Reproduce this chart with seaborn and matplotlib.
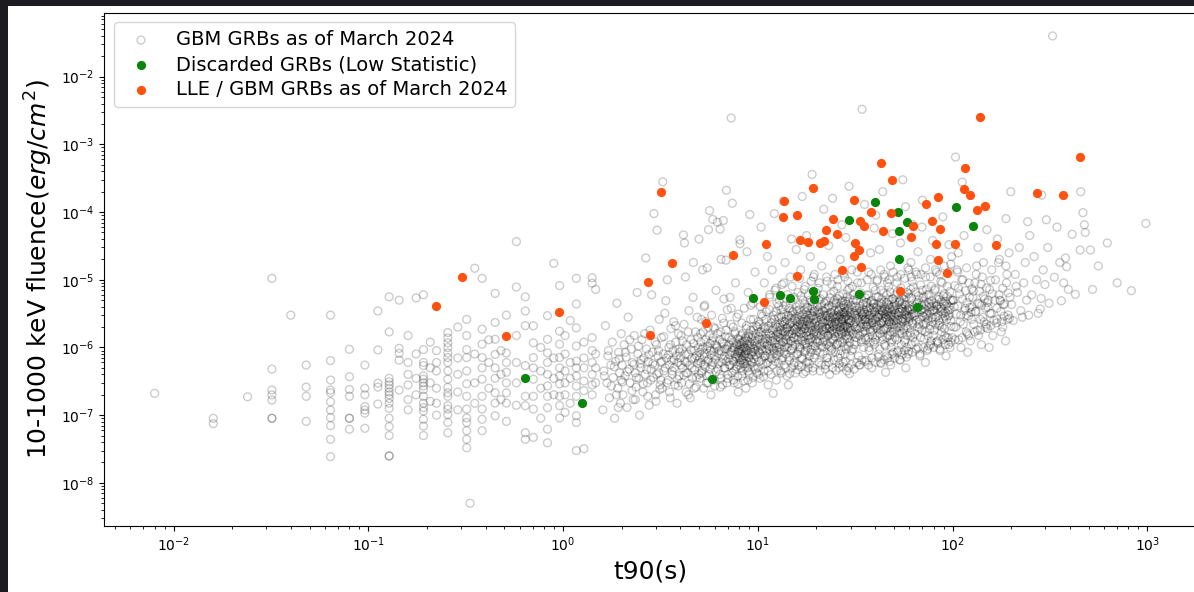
import matplotlib
matplotlib.use("Agg")
import matplotlib.pyplot as plt
import pandas as pd
import seaborn as sns
from matplotlib.patches import Rectangle

# All fluences below are in units of 1e-6 erg/cm^2
UNIT = 1e-6

# Short bursts: t90 is binned, so each t90 value carries a column of fluences
gbm_short_columns = [
    (0.008, [0.21]),
    (0.016, [0.09, 0.075]),
    (0.024, [0.187]),
    (0.032, [10.5, 0.48, 0.235, 0.199, 0.167, 0.09, 0.09]),
    (0.040, [3.0]),
    (0.048, [0.55, 0.26, 0.19, 0.081]),
    (0.064, [3.0, 0.64, 0.33, 0.235, 0.215, 0.158, 0.119, 0.092, 0.070, 0.044, 0.0244]),
    (0.080, [0.94, 0.37, 0.24, 0.19, 0.09, 0.09, 0.062]),
    (0.096, [0.55, 0.25, 0.20, 0.134, 0.119, 0.107, 0.064]),
    (0.112, [3.46, 0.92, 0.296, 0.26, 0.146]),
    (0.128, [5.6, 1.7, 0.35, 0.31, 0.28, 0.25, 0.22, 0.20, 0.177, 0.15, 0.126, 0.09, 0.068, 0.05, 0.025, 0.025]),
    (0.144, [5.0, 0.97, 0.82, 0.65, 0.235]),
    (0.160, [1.5, 0.6, 0.4, 0.28, 0.17, 0.12]),
    (0.176, [5.4, 0.8, 0.35, 0.2]),
    (0.192, [6.0, 0.93, 0.60, 0.54, 0.38, 0.34, 0.30, 0.27, 0.24, 0.19, 0.15, 0.129, 0.115, 0.087, 0.069, 0.05]),
    (0.208, [1.2, 0.5, 0.3, 0.16]),
    (0.224, [0.9, 0.6, 0.45, 0.25, 0.15, 0.1]),
    (0.256, [1.66, 1.38, 1.17, 1.0, 0.83, 0.71, 0.60, 0.45, 0.34, 0.257, 0.214, 0.19, 0.138, 0.123, 0.102, 0.078, 0.055]),
    (0.288, [2.0, 0.7, 0.4, 0.22, 0.12]),
    (0.320, [2.6, 1.5, 0.93, 0.71, 0.45, 0.29, 0.19, 0.123, 0.091, 0.078, 0.059, 0.044, 0.033]),
    (0.333, [0.005]),
    (0.352, [14.8, 0.8, 0.3, 0.15]),
    (0.384, [10.5, 1.86, 1.12, 0.71, 0.5, 0.34, 0.19, 0.123, 0.087, 0.059]),
    (0.416, [1.3, 0.6, 0.25]),
    (0.448, [6.3, 2.34, 1.32, 0.79, 0.5, 0.35, 0.214, 0.151, 0.098]),
    (0.480, [0.9, 0.4, 0.17]),
    (0.512, [3.0, 0.83, 0.60, 0.43, 0.30, 0.214, 0.151, 0.081]),
    (0.576, [36.6, 7.8, 1.5, 0.6, 0.3, 0.14]),
    (0.640, [5.6, 3.46, 2.1, 0.54, 0.19, 0.138, 0.055, 0.044]),
    (0.704, [2.09, 1.17, 0.71, 0.50, 0.34, 0.19, 0.123, 0.047]),
    (0.768, [1.0, 0.45, 0.25, 0.09]),
    (0.832, [2.95, 1.32, 0.83, 0.60, 0.40, 0.27, 0.19, 0.129, 0.062, 0.039]),
    (0.896, [17.5, 0.7, 0.35, 0.2]),
    (0.960, [8.2, 1.74, 1.12, 0.71, 0.5, 0.38, 0.29, 0.19, 0.138, 0.091]),
    (1.024, [1.5, 0.8, 0.45, 0.3, 0.2, 0.11]),
    (1.088, [2.5, 0.6, 0.35, 0.15]),
    (1.170, [10.5, 4.4, 1.95, 1.05, 0.63, 0.5, 0.38, 0.27, 0.19, 0.098, 0.078, 0.03]),
    (1.280, [1.2, 0.7, 0.5, 0.32, 0.23, 0.032]),
    (1.410, [10.7, 8.9, 1.4, 0.9, 0.6, 0.4, 0.28, 0.2]),
    (1.470, [7.2, 0.8, 0.5, 0.3]),
]

# Long bursts: (t90 [s], fluence [1e-6 erg/cm^2])
gbm_long = [
    (1.60,.12),(1.62,.45),(1.65,2.1),(1.68,.3),(1.70,.75),(1.73,.18),(1.76,.55),(1.79,1.2),(1.81,.36),
    (1.84,.09),(1.86,.62),(1.89,4.5),(1.91,.25),(1.93,.85),(1.95,.42),(1.97,.15),(1.99,1.6),(1.99,.33),
    (2.01,.55),(2.03,.2),(2.06,1.1),(2.08,.38),(2.11,.72),(2.13,.13),(2.16,2.8),(2.19,.48),(2.21,.3),
    (2.24,.95),(2.27,.6),(2.29,.17),(2.32,1.5),(2.35,.42),(2.37,.26),(2.40,6.5),(2.42,.8),(2.45,.35),
    (2.47,.1),(2.49,.58),
    (2.51,.5),(2.54,1.3),(2.57,.22),(2.60,.7),(2.63,.4),(2.66,21),(2.68,.95),(2.71,.3),(2.74,.62),
    (2.77,.14),(2.80,1.8),(2.83,.48),(2.85,6.0),(2.88,.85),(2.91,.36),(2.93,95),(2.96,.55),(2.99,.2),
    (3.02,1.1),(3.04,54),(3.07,.75),(3.10,.42),(3.12,2.6),(3.15,.28),
    (3.17,.6),(3.20,1.4),(3.23,.25),(3.25,280),(3.27,.8),(3.30,.45),(3.33,3.2),(3.37,4.9),(3.40,.7),
    (3.43,10),(3.46,.33),(3.49,1.0),(3.52,.55),(3.55,.18),(3.58,1.9),(3.61,.65),(3.64,.4),(3.67,.9),
    (3.70,2.4),(3.73,.5),(3.76,.28),(3.79,1.2),(3.82,.75),(3.85,.15),(3.88,.6),(3.91,1.6),(3.94,.38),
    (3.97,.85),
    (4.00,.7),(4.03,1.5),(4.06,.3),(4.09,.95),(4.12,.5),(4.15,46),(4.18,2.2),(4.20,35),(4.22,.62),
    (4.25,11),(4.28,.22),(4.32,1.1),(4.36,.42),(4.40,.8),(4.43,3.5),(4.47,.55),(4.50,.18),(4.54,1.3),
    (4.58,.68),(4.61,.35),(4.65,5.5),(4.67,18),(4.70,.9),(4.74,.47),(4.78,1.7),(4.81,.26),(4.85,.75),
    (4.88,2.8),(4.91,.58),(4.94,1.0),(4.97,.4),(4.99,40),
    (5.02,.85),(5.05,.35),(5.08,1.6),(5.11,.6),(5.14,2.6),(5.17,.45),(5.20,14),(5.23,1.0),(5.27,.25),
    (5.30,.72),(5.34,4.2),(5.37,.52),(5.41,1.3),(5.45,.3),(5.48,.95),(5.50,15),(5.53,.62),(5.56,2.0),
    (5.58,55),(5.62,.4),(5.65,105),(5.68,1.15),(5.72,.78),(5.75,.2),(5.79,3.0),(5.83,.55),(5.87,78),
    (5.90,1.4),(5.94,.88),(5.98,.33),(6.02,1.9),(6.06,.66),(6.10,7.0),(6.15,1.05),(6.20,71),(6.25,.48),
    (6.32,.9),(6.36,.4),(6.40,56),(6.44,1.7),(6.48,20),(6.52,.6),(6.56,1.2),(6.60,.28),(6.65,75),
    (6.69,2.3),(6.73,.75),(6.77,.5),(6.82,1.45),(6.86,19.5),(6.90,210),(6.94,.95),(6.98,3.6),(7.02,.35),
    (7.06,.68),(7.10,1.1),(7.15,.55),(7.20,5.5),(7.25,.85),(7.30,2450),(7.33,1.3),(7.37,.42),(7.40,135),
    (7.44,.98),(7.48,2.0),(7.52,.62),(7.56,.3),(7.60,1.6),(7.64,.8),(7.68,9.0),(7.72,.48),(7.76,1.15),
    (7.80,2.8),(7.84,.7),(7.88,.38),(7.91,1.35),(7.93,.22),(7.95,.9),
    (7.98,.75),(8.02,1.1),(8.05,.55),(8.08,39),(8.10,34),(8.12,.85),(8.16,1.5),(8.20,.65),(8.24,.95),
    (8.28,2.3),(8.32,.45),(8.36,1.2),(8.40,.7),(8.44,.32),(8.48,1.0),(8.52,3.8),(8.56,.8),(8.60,.58),
    (8.64,1.4),(8.68,.25),(8.72,1.9),(8.76,.9),(8.80,26),(8.84,.5),(8.88,1.25),(8.92,6.5),(8.96,.72),
    (9.00,1.6),(9.05,.4),(9.10,92),(9.14,1.05),(9.18,2.6),(9.22,.62),(9.27,.85),(9.32,1.35),(9.37,.3),
    (9.42,4.5),(9.47,.95),(9.52,1.8),(9.57,.52),(9.62,1.15),(9.68,13),(9.74,.78),(9.80,2.1),(9.88,.42),
    (10.0,1.3),(10.05,.5),(10.1,2.4),(10.15,.85),(10.2,1.7),(10.25,.35),(10.3,4.0),(10.35,1.05),(10.4,60),
    (10.45,.65),(10.5,1.5),(10.55,2.9),(10.6,.9),(10.7,1.2),(10.75,.45),(10.8,9.0),(10.85,1.9),(10.9,.75),
    (11.0,1.35),(11.05,3.4),(11.1,.58),(11.15,1.1),(11.2,22),(11.3,.28),(11.35,2.1),(11.4,.95),(11.45,1.6),
    (11.5,5.5),(11.55,.7),(11.6,1.25),(11.7,.4),(11.75,2.6),(11.8,1.0),(11.85,14),(11.9,1.8),(11.95,.55),
    (12.0,1.4),(12.0,.21),(12.05,3.0),(12.1,.82),(12.15,95),(12.2,1.15),(12.25,7.0),(12.3,.62),(12.35,2.2),
    (12.4,1.55),(12.45,.33),(12.5,1.0),(12.55,4.5),(12.6,.9),(12.65,1.7),
    (12.7,1.6),(12.75,.6),(12.8,2.8),(12.85,1.1),(12.9,5.0),(12.95,.85),(13.0,2.0),(13.05,1.35),(13.1,.45),
    (13.15,3.6),(13.2,1.8),(13.25,.95),(13.3,8.5),(13.35,2.4),(13.4,.7),(13.45,1.5),(13.5,145),(13.55,1.2),
    (13.6,3.1),(13.65,.55),(13.7,2.2),(13.75,1.0),(13.8,18),(13.85,1.7),(13.9,4.2),(13.95,.8),(14.0,1.3),
    (14.05,2.6),(14.1,.38),(14.15,1.95),(14.2,6.0),(14.3,1.15),(14.35,.28),(14.4,2.9),(14.45,1.45),(14.5,.65),
    (14.55,3.8),(14.6,1.75),(14.7,11),(14.75,.9),(14.8,2.3),(14.85,1.25),(14.9,40),(14.95,.5),(15.0,1.6),
    (15.1,3.3),(15.15,1.05),(15.2,2.0),(15.3,.75),(15.35,5.5),(15.4,1.4),(15.5,2.7),(15.6,.42),(15.65,1.85),
    (15.75,28),
    (15.85,2.0),(15.9,.8),(15.95,3.5),(16.0,1.3),(16.1,6.5),(16.15,1.7),(16.2,.55),(16.3,2.6),(16.35,1.1),
    (16.4,4.3),(16.45,2.2),(16.5,.95),(16.6,14),(16.65,1.6),(16.7,3.0),(16.8,.68),(16.85,2.0),(16.9,170),
    (17.0,1.25),(17.05,5.0),(17.1,2.4),(17.15,.41),(17.2,1.45),(17.3,3.6),(17.35,1.9),(17.4,.85),(17.5,8.0),
    (17.55,2.8),(17.6,1.15),(17.7,.6),(17.75,2.1),(17.8,45),(17.9,1.7),(17.95,3.9),(18.0,1.0),(18.1,2.5),
    (18.15,.5),(18.2,6.0),(18.3,1.5),(18.35,2.2),(18.4,.75),(18.5,3.2),(18.6,22),(18.65,1.35),(18.7,2.7),
    (18.8,.92),(18.9,4.8),(18.95,1.8),(19.0,360),(19.1,1.2),(19.15,2.9),(19.2,.45),(19.3,11),(19.4,1.6),
    (19.45,3.4),(19.5,.7),(19.6,2.3),(19.7,1.05),(19.8,5.6),(19.9,1.9),
    (20.0,2.4),(20.1,.9),(20.2,4.0),(20.3,1.5),(20.4,7.5),(20.5,2.1),(20.6,.6),(20.7,3.1),(20.8,1.25),
    (20.9,.45),(21.0,5.2),(21.1,2.6),(21.2,1.05),(21.3,16),(21.4,1.8),(21.5,3.5),(21.6,.8),(21.7,2.3),
    (21.8,110),(21.9,1.4),(22.0,4.5),(22.1,2.0),(22.2,.55),(22.3,1.65),(22.4,3.8),(22.5,2.9),(22.6,1.1),
    (22.7,9.5),(22.8,.7),(22.9,2.5),(23.0,1.5),(23.1,32),(23.2,4.1),(23.3,1.9),(23.4,.4),(23.5,2.7),
    (23.6,1.2),(23.7,6.2),(23.8,3.3),(23.9,1.75),(24.0,.95),(24.1,2.2),(24.2,160),(24.3,1.35),(24.4,4.6),
    (24.5,2.05),(24.6,.65),(24.7,3.0),(24.8,1.6),(24.9,12),(25.0,2.4),(25.05,.85),(20.15,1.7),(20.55,3.3),
    (21.25,2.8),(21.65,1.2),(22.15,3.0),(22.65,1.9),(23.25,2.2),(23.75,1.0),(24.25,2.8),(24.75,5.0),
    (25.2,2.8),(25.3,1.1),(25.4,4.6),(25.5,1.7),(25.6,8.0),(25.7,2.4),(25.8,.7),(25.9,3.5),(26.0,1.4),
    (26.1,.5),(26.2,5.8),(26.3,2.9),(26.4,1.2),(26.5,20),(26.6,2.0),(26.7,3.9),(26.8,.9),(26.9,2.6),
    (27.0,65),(27.1,1.6),(27.2,4.9),(27.3,2.2),(27.4,.6),(27.5,1.9),(27.6,4.2),(27.7,3.1),(27.8,1.3),
    (27.9,11),(28.0,.8),(28.1,2.8),(28.2,1.7),(28.3,42),(28.4,4.4),(28.5,2.1),(28.6,.45),(28.7,3.0),
    (28.8,1.35),(28.9,7.0),(29.0,3.6),(29.1,1.95),(29.2,1.05),(29.3,2.5),(29.4,240),(29.5,1.5),(29.6,.41),
    (29.7,5.2),(29.8,2.3),(29.9,.75),(30.0,3.3),(30.2,1.8),(30.4,14),(30.6,2.7),(30.8,.95),(31.0,6.0),
    (31.2,1.6),(31.4,3.9),(25.45,2.2),(26.05,3.4),(26.55,1.8),(27.05,2.6),(27.55,3.3),(28.05,2.0),
    (28.55,2.6),(29.05,4.8),
    (31.7,3.0),(31.9,1.2),(32.1,5.0),(32.3,1.9),(32.5,9.0),(32.7,2.6),(32.9,.75),(33.1,3.8),(33.3,1.5),
    (33.5,.55),(33.7,6.4),(33.9,3.2),(34.1,1.3),(34.3,3300),(34.5,2.2),(34.7,4.3),(34.9,1.0),(35.1,2.9),
    (35.3,130),(35.5,1.75),(35.7,5.4),(35.9,2.4),(36.1,.65),(36.3,2.0),(36.5,4.6),(36.7,3.4),(36.9,1.4),
    (37.1,13),(37.3,.9),(37.5,3.0),(37.7,1.85),(37.9,25),(38.1,4.8),(38.3,2.3),(38.5,.5),(38.7,3.3),
    (38.9,1.5),(39.1,7.8),(39.3,3.9),(39.5,2.1),(39.7,1.1),(31.8,2.4),(32.2,3.5),(32.6,1.6),(33.0,2.8),
    (33.4,4.1),(33.8,2.0),(34.2,3.0),(34.6,1.7),(35.0,3.6),(35.4,2.6),(35.8,1.3),(36.2,3.1),(36.6,2.2),
    (37.0,5.9),(37.4,2.7),(37.8,1.2),(38.2,3.6),(38.6,2.5),(39.0,1.8),(39.4,4.4),(39.6,58),
    (39.9,3.3),(40.2,1.3),(40.5,5.6),(40.8,2.1),(41.1,10),(41.4,2.8),(41.7,.8),(42.0,4.2),(42.3,1.6),
    (42.6,.6),(42.9,7.0),(43.2,3.5),(43.5,1.45),(43.8,200),(44.1,2.4),(44.4,4.7),(44.7,1.1),(45.0,3.1),
    (45.3,.43),(45.6,1.9),(45.9,6.0),(46.2,2.6),(46.5,.7),(46.8,2.2),(47.1,5.0),(47.4,3.7),(47.7,1.5),
    (48.0,16),(48.3,1.0),(48.6,3.3),(48.9,2.0),(49.2,48),(49.5,5.2),(49.8,2.5),(40.0,2.6),(40.6,3.8),
    (41.2,1.9),(41.8,3.0),(42.4,4.6),(43.0,2.3),(43.6,3.4),(44.2,1.8),(44.8,3.9),(45.4,2.8),(46.0,1.4),
    (46.6,3.5),(47.2,2.4),(47.8,6.6),(48.4,2.9),(49.0,1.3),(49.6,4.0),(40.3,90),(42.1,28),(44.5,12),
    (46.3,9.0),(48.1,.55),(49.9,1.7),(43.3,3.0),
    (50.3,3.6),(50.7,1.4),(51.1,6.0),(51.5,2.3),(51.9,11),(52.3,3.0),(52.7,.9),(53.1,4.6),(53.5,1.75),
    (53.9,.65),(54.3,7.6),(54.7,3.8),(55.1,1.6),(55.5,300),(55.9,2.6),(56.3,5.1),(56.7,1.2),(57.1,3.4),
    (57.5,.5),(57.9,2.1),(58.3,6.5),(58.7,2.8),(59.1,.8),(59.5,2.4),(59.9,5.4),(60.3,4.0),(60.7,1.65),
    (61.1,18),(61.5,1.1),(61.9,3.6),(62.3,2.2),(62.7,65),(50.5,2.8),(51.3,4.2),(52.1,2.0),(52.9,3.3),
    (53.7,5.0),(54.5,2.5),(55.3,3.7),(56.1,1.9),(56.9,4.3),(57.7,3.0),(58.5,1.5),(59.3,3.8),(60.1,2.7),
    (60.9,7.2),(61.7,3.1),(62.5,1.4),(54.0,35),(57.3,120),(59.7,14),(62.0,9.5),
    (63.5,4.0),(64.0,1.6),(64.5,6.6),(65.0,2.5),(65.5,12),(66.0,3.3),(66.5,1.0),(67.0,5.0),(67.5,1.9),
    (68.0,.75),(68.5,8.4),(69.0,4.2),(69.5,1.8),(70.0,150),(70.5,2.9),(71.0,5.6),(71.5,1.35),(72.0,3.7),
    (72.5,.6),(73.0,2.3),(73.5,7.2),(74.0,3.1),(74.5,.95),(75.0,2.7),(75.5,6.0),(76.0,4.4),(76.5,1.85),
    (77.0,20),(77.5,1.25),(78.0,4.0),(78.5,2.4),(79.0,38),(64.2,3.0),(65.8,4.6),(67.2,2.2),(68.8,3.6),
    (70.2,5.4),(71.8,2.8),(73.2,4.1),(74.8,1.5),(76.2,3.3),(77.8,8.0),(66.4,26),(69.7,60),(72.8,11),
    (80.0,4.5),(80.7,1.8),(81.4,7.4),(82.1,2.8),(82.8,13),(83.5,3.7),(84.2,1.15),(84.9,5.6),(85.6,2.1),
    (86.3,.9),(87.0,9.4),(87.7,4.7),(88.4,2.0),(89.1,85),(89.8,3.2),(90.5,6.2),(91.2,1.5),(91.9,4.1),
    (92.6,.75),(93.3,2.6),(94.0,8.0),(94.7,3.5),(95.4,1.1),(96.1,3.0),(96.8,6.7),(97.5,4.9),(98.2,2.05),
    (98.9,22),(99.6,1.4),(81.0,3.4),(83.0,5.2),(85.0,2.5),(87.3,3.9),(89.5,5.8),(91.5,2.9),(93.6,4.4),
    (95.8,33),(97.9,17),
    (100.5,5.0),(101.5,2.0),(102.5,8.2),(103.5,650),(104.5,3.1),(105.5,14),(106.5,4.1),(107.5,1.3),
    (108.5,6.2),(109.5,2.4),(110.5,1.0),(111.5,10),(112.5,5.2),(113.5,2.2),(114.5,45),(115.5,3.5),
    (116.5,6.9),(117.5,1.7),(118.5,4.6),(119.5,.85),(120.5,2.9),(121.5,9.0),(122.5,3.9),(123.5,1.25),
    (124.5,3.3),(125.5,7.4),(102.0,4.0),(107.0,25),(112.0,277),(118.0,3.0),
    (127,5.5),(128.5,2.2),(130,9.0),(131.5,3.4),(133,16),(134.5,4.5),(136,1.5),(137.5,6.8),(139,2.6),
    (140.5,1.1),(142,11),(143.5,5.7),(145,2.4),(146.5,120),(148,3.8),(149.5,7.6),(151,1.9),(152.5,5.0),
    (154,1.0),(155.5,3.2),(157,9.8),(135,30),(141,4.2),(150,55),
    (160,6.2),(163,2.5),(166,10),(169,3.8),(172,18),(175,5.0),(178,1.7),(181,7.5),(184,2.9),(187,1.25),
    (190,12),(193,6.4),(196,2.7),(199,200),(170,40),(182,4.3),(188,80),(195,25),
    (201,4.3),(205,2.5),(210,12),(215,6.5),(220,30),(224,3.5),(228,2.8),(232,9.0),(236,18),(240,5.0),
    (243,72),(246,3.0),(249,45),(212,8.0),
    (255,6.0),(262,22),(270,10),(275,3.2),(282,3.7),(285,5.3),(287,178),(292,14),(298,8.5),(303,77),
    (308,30),(313,4.5),
    (326,40000),(333,10.9),(344,60),(355,18),(362,4.9),(372,9.0),(380,21),(385,15.6),(393,7.2),
    (411,47),(427,6.1),(452,27.5),(455,200),(467,98),(475,65),(480,50),(510,27.5),(523,7.2),(560,16),
    (623,35),(700,9.0),(828,6.9),(983,68),
]

# Crowded core of the long-burst population
gbm_long_core = [
    (1.63,.38),(1.71,.9),(1.77,.27),(1.83,.52),(1.88,.2),(1.94,.68),(2.02,.31),(2.09,.85),(2.14,.44),
    (2.2,1.3),(2.26,.23),(2.31,.56),(2.38,.36),(2.44,1.05),(2.52,.66),(2.58,.29),(2.62,1.6),(2.69,.47),
    (2.76,.78),(2.82,.33),(2.89,.58),(2.97,1.2),(3.03,.4),(3.09,.9),(3.14,.24),(3.21,.62),(3.29,1.45),
    (3.35,.5),(3.41,.3),(3.48,.78),(3.56,1.1),(3.63,.45),(3.71,.66),(3.78,2.1),(3.86,.34),(3.93,.95),
    (4.02,.55),(4.1,1.25),(4.17,.39),(4.24,.8),(4.31,.6),(4.39,1.7),(4.46,.29),(4.53,.92),(4.6,.5),
    (4.68,1.15),(4.75,.7),(4.83,.36),(4.9,1.4),(4.96,.64),(3.18,.33),(3.52,.22),(3.9,.27),(4.28,.42),
    (4.72,.25),(2.35,.17),(2.72,.19),(1.92,.13),(3.0,.16),(4.4,.2),
    (5.04,.7),(5.09,1.2),(5.13,.42),(5.19,.95),(5.24,1.7),(5.29,.55),(5.35,.82),(5.4,2.4),(5.46,.38),
    (5.52,1.05),(5.57,.66),(5.63,1.5),(5.69,.48),(5.74,.9),(5.8,1.25),(5.86,.6),(5.92,2.0),(5.97,.75),
    (6.04,1.1),(6.09,.44),(6.16,.98),(6.22,1.6),(6.27,.58),(6.33,.8),(6.38,1.3),(6.45,.35),(6.5,.88),
    (6.57,2.7),(6.62,.68),(6.68,1.15),(6.74,.5),(6.8,.95),(6.87,1.8),(6.92,.62),(6.99,1.05),(7.04,.4),
    (7.11,1.4),(7.17,.78),(7.22,.55),(7.28,2.2),(7.35,.9),(7.41,.65),(7.47,1.2),(7.53,.45),(7.59,1.0),
    (7.66,1.7),(7.71,.72),(7.78,.52),(7.83,1.1),(7.89,.85),(7.94,3.1),(5.55,.3),(6.0,.27),(6.42,.26),
    (6.95,.3),(7.5,.33),(7.9,.29),(5.3,4.0),(6.7,5.2),(7.3,3.8),
    (8.01,.95),(8.04,.7),(8.07,1.3),(8.11,.6),(8.14,1.05),(8.18,.8),(8.21,.5),(8.25,1.15),(8.29,.88),
    (8.33,.66),(8.37,1.6),(8.41,.95),(8.46,.58),(8.5,1.25),(8.54,.75),(8.58,1.0),(8.63,.52),(8.67,1.35),
    (8.71,.82),(8.75,2.1),(8.79,.62),(8.83,1.1),(8.87,.9),(8.91,.45),(8.95,1.45),(9.02,.7),(9.07,1.2),
    (9.12,.55),(9.16,.98),(9.21,1.8),(9.26,.78),(9.3,1.1),(9.35,.6),(9.4,1.5),(9.45,.85),(9.5,2.6),
    (9.55,.68),(9.6,1.25),(9.66,.95),(9.71,.48),(9.77,1.6),(9.83,1.05),(9.9,.72),(9.95,2.0),(10.02,.9),
    (10.08,1.45),(10.13,.62),(10.18,2.2),(10.23,1.1),(10.32,.8),(10.38,1.7),(10.42,3.1),(10.48,.95),
    (10.58,1.3),(10.65,.56),(10.72,2.0),(10.82,1.15),(10.88,.75),(10.95,1.6),(11.02,2.6),(11.08,.9),
    (11.18,1.35),(11.25,.6),(11.32,1.9),(11.42,1.05),(11.48,3.6),(11.58,.8),(11.65,1.5),(11.72,2.3),
    (11.78,.68),(11.88,1.25),(11.98,.95),(8.3,.38),(8.9,.33),(9.45,.36),(10.1,.4),(10.7,.37),(11.3,.45),
    (9.2,4.2),(11.5,6.0),
    (12.02,1.9),(12.12,.9),(12.18,2.6),(12.28,1.3),(12.38,3.4),(12.48,.75),(12.58,2.0),(12.68,1.45),
    (12.78,4.1),(12.88,1.0),(12.98,2.3),(13.08,1.6),(13.18,.65),(13.28,2.8),(13.38,1.2),(13.48,3.7),
    (13.58,1.75),(13.68,.85),(13.78,2.4),(13.88,1.35),(13.98,5.2),(14.08,1.9),(14.18,1.0),(14.28,3.0),
    (14.38,1.55),(14.48,.72),(14.58,2.2),(14.68,4.5),(14.78,1.25),(14.88,2.7),(14.98,.95),(15.08,1.8),
    (15.18,3.4),(15.28,1.4),(15.38,.6),(15.48,2.5),(15.58,1.1),(15.7,4.0),(15.8,1.7),(15.92,2.9),
    (16.04,.8),(16.12,2.1),(16.24,1.45),(16.32,3.6),(16.42,1.0),(16.54,2.5),(16.62,5.8),(16.72,1.3),
    (16.82,2.2),(16.92,.7),(17.02,3.1),(17.12,1.65),(17.22,2.6),(17.32,1.1),(17.42,4.4),(17.52,1.9),
    (17.62,.9),(17.72,3.3),(17.82,1.5),(17.92,2.4),(18.02,.62),(18.12,3.8),(18.22,1.75),(18.32,2.7),
    (18.42,1.2),(18.52,5.0),(18.62,2.0),(18.72,.85),(18.82,3.0),(18.92,1.4),(19.02,2.3),(19.12,4.2),
    (19.22,1.05),(19.32,2.6),(19.42,1.7),(19.52,3.5),(19.62,.78),(19.72,2.0),(19.82,1.3),(19.92,6.5),
    (12.5,.45),(13.2,.42),(13.9,.5),(14.6,.41),(15.3,.55),(16.0,.47),(16.8,.52),(17.6,.44),(18.4,.58),
    (19.2,.5),(12.4,7.5),(13.6,9.0),(15.0,8.0),(16.4,10.5),(17.3,7.2),(18.8,9.5),(19.5,12),(14.2,2.0),
    (15.9,2.4),(17.9,3.0),(12.9,1.4),(16.7,1.8),(18.7,2.1),(19.95,1.6),(14.9,3.0),(13.4,2.1),(15.45,1.9),
    (17.05,2.2),(18.15,1.3),(19.05,3.7),
    (20.05,2.7),(20.25,1.2),(20.35,3.6),(20.45,1.8),(20.65,5.0),(20.75,2.2),(20.85,.85),(20.95,3.2),
    (21.05,1.5),(21.15,4.3),(21.35,2.0),(21.45,1.0),(21.55,2.9),(21.75,6.0),(21.85,1.7),(21.95,3.4),
    (22.05,1.25),(22.25,2.5),(22.35,4.8),(22.45,1.9),(22.55,.7),(22.75,3.0),(22.85,1.5),(22.95,3.9),
    (23.05,2.2),(23.15,1.05),(23.35,2.8),(23.45,5.4),(23.55,1.6),(23.65,3.3),(23.85,.9),(23.95,2.4),
    (24.05,4.0),(24.15,1.8),(24.35,2.9),(24.45,1.3),(24.55,6.8),(24.65,2.1),(24.85,3.5),(24.95,1.45),
    (25.1,2.6),(25.25,4.4),(25.35,1.9),(25.55,3.0),(25.65,1.15),(25.75,5.2),(25.95,2.3),(26.15,1.6),
    (26.25,3.7),(26.35,2.0),(26.45,.8),(26.65,3.1),(26.75,1.7),(26.85,4.6),(26.95,2.4),(27.15,1.2),
    (27.25,3.3),(27.35,6.2),(27.45,1.8),(27.65,2.7),(27.75,1.05),(27.85,3.9),(27.95,2.1),(28.15,4.8),
    (28.25,1.5),(28.35,2.9),(28.45,.95),(28.65,3.5),(28.75,2.0),(28.85,5.6),(28.95,1.4),(29.15,2.6),
    (29.25,3.8),(29.35,1.7),(29.45,2.3),(29.55,7.5),(29.65,1.2),(29.75,3.1),(29.85,1.9),(29.95,4.2),
    (30.1,2.5),(30.3,.9),(30.5,3.6),(30.7,1.6),(30.9,5.0),(31.1,2.2),(31.3,1.1),(31.5,3.2),(31.65,2.0),
    (31.85,4.1),(32.0,1.4),(32.4,2.7),(32.8,5.8),(33.2,1.9),(33.6,3.4),(34.0,1.2),(34.4,2.6),(34.8,4.5),
    (35.0,2.0),(21.2,.55),(22.2,.48),(23.2,.6),(24.2,.5),(25.2,.46),(26.2,.58),(27.2,.52),(28.2,.62),
    (29.2,.5),(30.2,.56),(31.2,.48),(32.2,.6),(33.2,.55),(34.2,.65),(20.7,9.0),(22.5,11),(24.0,8.5),
    (25.8,10),(27.6,12.5),(29.0,9.5),(30.6,8.0),(32.4,13),(34.0,9.0),(21.5,2.4),(23.4,2.0),(26.0,2.8),
    (28.0,3.3),(31.8,3.0),(33.6,2.3),(34.6,3.1),
    (35.2,3.3),(35.6,1.4),(35.9,4.6),(36.0,2.1),(36.4,6.0),(36.8,2.6),(37.2,1.0),(37.6,3.8),(38.0,1.7),
    (38.4,5.0),(38.8,2.3),(39.2,1.2),(39.8,3.4),(40.1,7.0),(40.4,2.0),(40.7,3.9),(41.0,1.5),(41.3,2.8),
    (41.6,5.6),(41.9,2.2),(42.2,.95),(42.5,3.6),(42.8,1.8),(43.1,4.4),(43.4,2.5),(43.7,1.3),(44.0,3.2),
    (44.3,6.4),(44.6,1.9),(44.9,3.7),(45.2,1.05),(45.5,2.7),(45.8,4.6),(46.1,2.0),(46.4,3.3),(46.7,1.5),
    (47.0,8.0),(47.3,2.4),(47.6,3.9),(47.9,1.7),(48.2,3.0),(48.5,1.2),(48.8,5.2),(49.1,2.6),(49.4,3.6),
    (49.7,.85),(50.0,2.2),(50.4,4.4),(50.8,1.9),(51.2,3.2),(51.6,1.3),(52.0,6.6),(52.4,2.5),(52.8,3.7),
    (53.2,1.6),(53.6,4.8),(54.1,2.1),(54.6,1.1),(55.0,3.4),(55.4,2.4),(55.8,5.9),(56.2,1.8),(56.6,3.1),
    (57.0,1.3),(57.4,4.2),(57.8,2.7),(58.2,1.0),(58.6,3.5),(59.0,2.0),(59.4,6.2),(59.8,2.9),(35.5,.62),
    (37.0,.55),(38.5,.7),(40.0,.6),(41.5,.72),(43.0,.58),(44.5,.66),(46.0,.75),(47.5,.62),(49.0,.8),
    (50.5,.7),(52.0,.85),(53.5,.66),(55.0,.78),(56.5,.9),(58.0,.72),(59.5,.88),(36.5,10),(38.2,12),
    (40.9,9.5),(42.7,14),(45.0,11),(47.2,10),(49.5,13),(51.8,9.0),(54.2,12),(56.7,10.5),(58.9,15),
    (35.8,2.6),(37.4,3.0),(39.0,2.8),(40.6,2.4),(42.0,3.1),(43.9,2.7),(45.7,3.4),(47.0,2.9),(48.6,2.2),
    (50.2,3.0),(51.9,2.6),(53.4,3.3),(55.2,2.7),(57.2,2.5),(58.8,3.6),(36.2,4.0),(39.5,4.5),(43.2,5.2),
    (46.8,4.3),(50.6,4.9),(54.8,4.4),(57.6,5.5),
    (60.2,3.7),(61.0,1.5),(61.6,5.4),(62.2,2.3),(62.8,7.8),(63.6,2.9),(64.4,1.2),(65.2,4.3),(66.0,2.0),
    (66.8,5.8),(67.6,2.6),(68.4,1.4),(69.2,3.6),(70.0,7.0),(70.8,2.2),(71.6,4.4),(72.4,1.7),(73.2,3.0),
    (74.0,6.0),(74.8,2.5),(75.6,1.05),(76.4,4.0),(77.2,2.1),(78.0,4.9),(78.8,2.8),(79.6,1.5),(80.4,3.6),
    (81.2,7.0),(82.0,2.2),(82.8,4.1),(83.6,1.25),(84.4,3.0),(85.2,5.1),(86.0,2.3),(86.8,3.7),(87.6,1.7),
    (88.4,9.0),(89.2,2.7),(90.0,4.4),(91.0,1.9),(92.0,3.3),(93.0,1.4),(94.0,5.7),(95.0,2.9),(96.0,4.0),
    (97.0,1.0),(98.0,2.5),(99.0,5.0),(62.0,.85),(65.0,.95),(68.0,.8),(71.0,1.0),(74.0,.9),(77.0,1.1),
    (80.0,1.0),(83.0,1.2),(86.0,.95),(89.0,1.3),(92.0,1.1),(95.0,1.4),(98.0,1.2),(61.3,11),(64.8,13),
    (68.8,12),(72.6,15),(76.8,11),(81.6,14),(85.8,12),(90.5,16),(95.5,13),(63.0,3.2),(67.0,3.9),
    (71.2,3.3),(75.2,4.6),(79.2,3.5),(83.2,4.2),(87.2,3.4),(91.8,4.8),(96.6,3.6),
    (101,5.0),(104,2.0),(107,7.5),(110,3.0),(113,10),(116,3.8),(119,1.6),(122,5.5),(125,2.6),(128,6.8),
    (131,3.4),(134,1.8),(137,4.4),(140,8.6),(143,2.8),(146,5.2),(149,2.2),(152,3.9),(155,7.2),(158,3.2),
    (161,1.5),(165,5.0),(169,2.6),(173,6.0),(177,3.4),(181,2.0),(185,4.4),(189,9.0),(193,3.0),(197,5.5),
    (103,1.3),(112,1.4),(121,1.5),(130,1.7),(139,1.8),(148,2.0),(157,2.1),(168,2.3),(179,2.4),(192,2.6),
    (106,13),(118,15),(132,12),(144,18),(159,14),(174,20),(188,16),(126,4.0),(151,4.6),(176,4.9),
]

# GRBs discarded for low statistics
discarded_t90 = [29.4, 40.0, 104, 52.6, 58.5, 128, 53.2, 53.2, 33.1, 65.8,
                 9.46, 13.0, 14.6, 19.2, 19.5, 5.83, 0.638, 1.25]
discarded_fluence = [76.4, 141, 119, 100, 71.4, 62.4, 52.6, 20.3, 6.17, 3.96,
                     5.38, 5.95, 5.38, 6.84, 5.2, 0.343, 0.354, 0.151]

# GRBs with LLE detections
lle_t90 = [138.6, 452, 3.19, 19.2, 13.65, 13.5, 15.9, 24.4, 31.2, 22.4,
           25.5, 11.0, 16.5, 18.1, 20.9, 21.9, 31.6, 31.2, 7.47, 3.63,
           2.73, 27.1, 15.9, 10.8, 43.0, 116, 48.9, 272, 370, 115,
           123, 73.2, 84.4, 147, 134, 38.2, 48.4, 33.5, 35.2, 62.8,
           78.6, 86.3, 44.0, 61.3, 33.1, 82.4, 103, 167, 84.4, 33.9,
           93.8, 53.8, 5.43, 2.80, 0.303, 0.223, 0.954, 0.510]
lle_fluence = [2540, 652, 198, 227, 146, 84.7, 90.6, 79, 151, 54.4,
               47.5, 33.8, 38.7, 36.1, 35.0, 37.4, 35.0, 22.5, 23.2, 17.7,
               9.27, 14.0, 11.4, 4.7, 531, 448, 298, 191, 179, 219,
               179, 132, 167, 123, 107, 100, 97, 74, 62.4, 62.4,
               74, 56.2, 52.6, 42.9, 27.5, 33.8, 33.8, 32.7, 19.6, 15.5,
               12.6, 6.84, 2.3, 1.53, 11.0, 4.1, 3.34, 1.48]

gbm_rows = [(t, f) for t, col in gbm_short_columns for f in col] + gbm_long + gbm_long_core
gbm = pd.DataFrame(gbm_rows, columns=["t90", "fluence"])
gbm["fluence"] *= UNIT
disc = pd.DataFrame({"t90": discarded_t90, "fluence": [f * UNIT for f in discarded_fluence]})
lle = pd.DataFrame({"t90": lle_t90, "fluence": [f * UNIT for f in lle_fluence]})

W, H = 1194, 592
fig = plt.figure(figsize=(W / 100, H / 100), dpi=100, facecolor="#1c1b22")
fig.patches.append(Rectangle((8 / W, 0), 1, 1 - 6 / H, transform=fig.transFigure,
                             facecolor="white", edgecolor="none", zorder=-1))
ax = fig.add_axes([104 / W, 66 / H, 1093 / W, 513.3 / H])

sns.scatterplot(data=gbm, x="t90", y="fluence", ax=ax, marker="o", s=32,
                facecolor="none", edgecolor="black", linewidth=1.0, alpha=0.2,
                label="GBM GRBs as of March 2024", zorder=1)
sns.scatterplot(data=disc, x="t90", y="fluence", ax=ax, color="#0b840b", s=44,
                linewidth=0, label="Discarded GRBs (Low Statistic)", zorder=2)
sns.scatterplot(data=lle, x="t90", y="fluence", ax=ax, color="#ff5210", s=44,
                linewidth=0, label="LLE / GBM GRBs as of March 2024", zorder=3)

ax.set_xscale("log")
ax.set_yscale("log")
ax.set_xlim(10 ** -2.357, 10 ** 3.255)
ax.set_ylim(10 ** -8.637, 10 ** -1.055)
ax.set_xlabel("t90(s)", fontsize=18)
ax.set_ylabel("10-1000 keV fluence($erg/cm^2$)", fontsize=18)
ax.tick_params(labelsize=10)
ax.legend(loc="upper left", fontsize=14, labelspacing=0.3)

fig.savefig("out.png", dpi=100, facecolor=fig.get_facecolor())
